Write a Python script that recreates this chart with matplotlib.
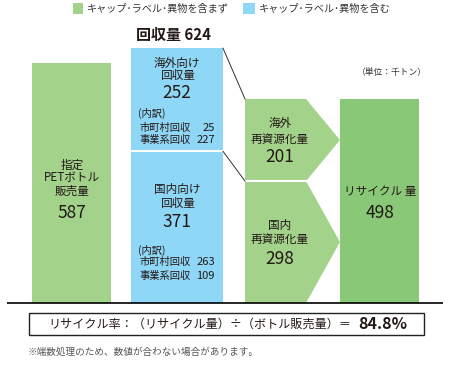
import matplotlib
matplotlib.use("Agg")
import matplotlib.pyplot as plt
from matplotlib.patches import Polygon, Rectangle

plt.rcParams['font.family'] = ['Noto Sans CJK JP', 'DejaVu Sans']

# データ（単位：千トン）
sales = 587
overseas_collect = 252
domestic_collect = 371
total_collect = 624
overseas_recycle = 201
domestic_recycle = 298
recycle_total = 498
rate = 84.8
overseas_breakdown = [25, 227]   # 市町村回収, 事業系回収
domestic_breakdown = [263, 109]

LIGHT_GREEN = '#a3d28b'
DARK_GREEN = '#89c877'
BLUE = '#8fd7f7'
TXT = '#231815'

W, H = 455, 365
fig = plt.figure(figsize=(W / 100, H / 100), dpi=100)

# 1千トン = 0.409 px, 基線は上から303px
s = 0.409
base = 303
ax = fig.add_axes([0, 0, 1, 1])
ax.set_xlim(0, W)
ax.set_ylim(-(H - base) / s, base / s)
ax.axis('off')


def fx(x):
    return x / W


def fy(y):
    return 1 - y / H


def ftext(x, y, t, **kw):
    kw.setdefault('color', TXT)
    kw.setdefault('ha', 'center')
    kw.setdefault('va', 'center')
    return fig.text(fx(x), fy(y), t, **kw)


# 棒
ax.bar(71.5, sales, width=79, color=LIGHT_GREEN)
ax.bar(177, domestic_collect, width=92, color=BLUE)
ax.bar(177, overseas_collect, width=92, bottom=domestic_collect, color=BLUE)
ax.hlines(domestic_collect, 131, 223, color='white', lw=1.5)
ax.bar(379.5, recycle_total, width=79, color=DARK_GREEN)

# 矢印形（再資源化量）
x0, x1, x2 = 245, 306, 340
lo = Polygon([(x0, 0), (x1, 0), (x2, domestic_recycle / 2),
              (x1, domestic_recycle), (x0, domestic_recycle)],
             closed=True, color=LIGHT_GREEN, lw=0)
top = domestic_recycle + overseas_recycle
up = Polygon([(x0, domestic_recycle), (x1, domestic_recycle),
              (x2, domestic_recycle + overseas_recycle / 2),
              (x1, top), (x0, top)],
             closed=True, color=LIGHT_GREEN, lw=0)
ax.add_patch(lo)
ax.add_patch(up)
ax.hlines(domestic_recycle, x0, x1 + 1, color='white', lw=1.5)

# 接続線
ax.plot([223, 245], [domestic_collect + overseas_collect, top], color='#333333', lw=0.7)
ax.plot([223, 245], [domestic_collect, domestic_recycle], color='#333333', lw=0.7)

# 基線
ax.hlines(0, 7, 443, color='black', lw=1.2)

# 凡例
fig.patches.append(Rectangle((fx(73), fy(14)), 10 / W, 11 / H, transform=fig.transFigure,
                             color=LIGHT_GREEN, lw=0))
ftext(87, 9, 'キャップ･ラベル･異物を含まず', ha='left', fontsize=7.3, color='#333333')
fig.patches.append(Rectangle((fx(243), fy(14)), 12 / W, 11 / H, transform=fig.transFigure,
                             color=BLUE, lw=0))
ftext(259, 9, 'キャップ･ラベル･異物を含む', ha='left', fontsize=7.3, color='#333333')

# 回収量
ftext(173, 35, f'回収量 {total_collect}', fontsize=10.8, fontweight='bold')

NUM = 12.5
LAB = 8.4
SML = 7.4

# 販売量
ftext(72, 165, '指定', fontsize=LAB)
ftext(72, 178, 'PETボトル', fontsize=LAB)
ftext(72, 191, '販売量', fontsize=LAB)
ftext(72, 213, str(sales), fontsize=NUM)

# 海外向け回収量
ftext(177, 63, '海外向け', fontsize=LAB)
ftext(177, 75, '回収量', fontsize=LAB)
ftext(177, 93, str(overseas_collect), fontsize=NUM)
ftext(138, 113, '(内訳)', ha='left', fontsize=SML)
ftext(139, 128, '市町村回収', ha='left', fontsize=SML)
ftext(215, 128, str(overseas_breakdown[0]), ha='right', fontsize=8)
ftext(139, 140, '事業系回収', ha='left', fontsize=SML)
ftext(215, 140, str(overseas_breakdown[1]), ha='right', fontsize=8)

# 国内向け回収量
ftext(177, 190, '国内向け', fontsize=LAB)
ftext(177, 203, '回収量', fontsize=LAB)
ftext(177, 222, str(domestic_collect), fontsize=NUM)
ftext(138, 250, '(内訳)', ha='left', fontsize=SML)
ftext(139, 262, '市町村回収', ha='left', fontsize=SML)
ftext(215, 262, str(domestic_breakdown[0]), ha='right', fontsize=8)
ftext(139, 276, '事業系回収', ha='left', fontsize=SML)
ftext(215, 276, str(domestic_breakdown[1]), ha='right', fontsize=8)

# 再資源化量
ftext(280, 123, '海外', fontsize=LAB)
ftext(280, 140, '再資源化量', fontsize=LAB)
ftext(280, 157, str(overseas_recycle), fontsize=NUM)
ftext(280, 225, '国内', fontsize=LAB)
ftext(280, 240, '再資源化量', fontsize=LAB)
ftext(280, 259, str(domestic_recycle), fontsize=NUM)

# リサイクル量
ftext(380, 192, 'リサイクル 量', fontsize=LAB)
ftext(380, 213, str(recycle_total), fontsize=NUM)

ftext(392, 73, '（単位：千トン）', fontsize=6.3, color='#333333')

# リサイクル率の枠
fig.patches.append(Rectangle((fx(29), fy(335)), 395 / W, 22 / H, transform=fig.transFigure,
                             fill=False, edgecolor='#222222', lw=1.0))
t = ftext(48, 324, 'リサイクル率：（リサイクル量）÷（ボトル販売量）＝', ha='left', fontsize=8.7)
ax.annotate(f'{rate}%', xy=(1, 0.5), xycoords=t, xytext=(5, 0), textcoords='offset points',
            va='center', ha='left', fontsize=11.5, fontweight='bold', color=TXT,
            annotation_clip=False)

# 注記
ftext(28, 352, '※端数処理のため、数値が合わない場合があります。', ha='left', fontsize=6.9,
      color='#555555')

fig.savefig('out.png', dpi=100)
